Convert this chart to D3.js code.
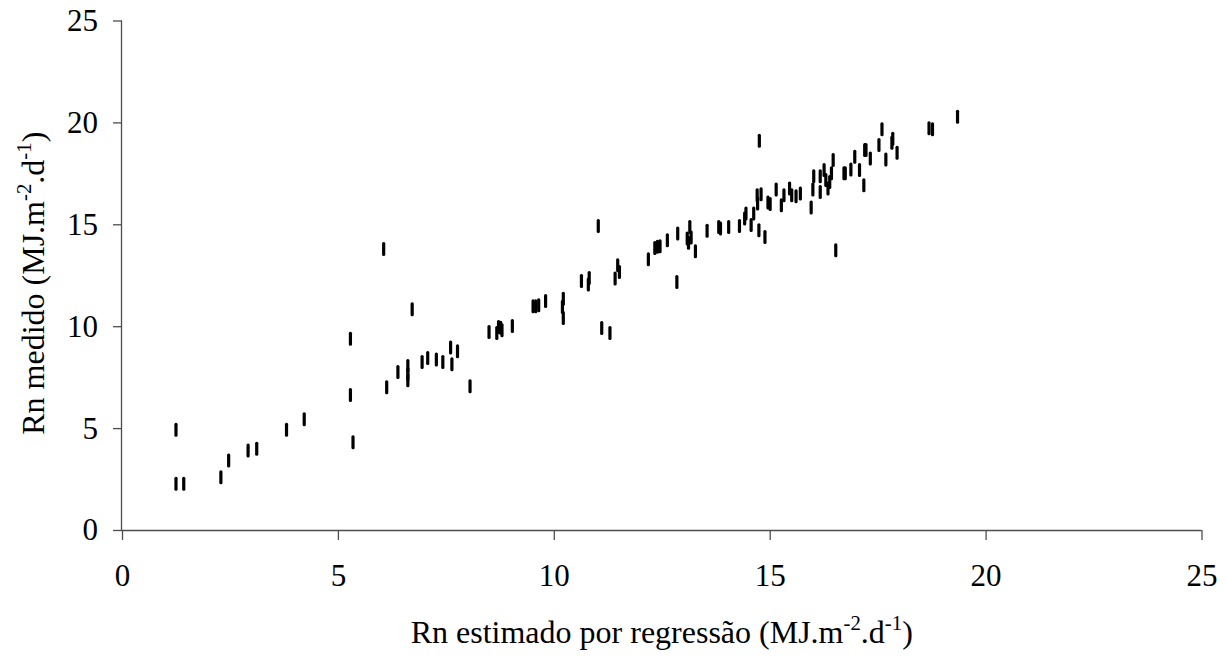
<!DOCTYPE html>
<html>
<head>
<meta charset="utf-8">
<script src="https://cdn.jsdelivr.net/npm/d3@7"></script>
<style>
  html, body { margin: 0; padding: 0; background: #fff; }
  svg, svg text { font-family: "Liberation Serif", "Times New Roman", Tinos, Times, "DejaVu Serif", serif !important; }
</style>
</head>
<body>
<svg id="chart" width="1225" height="657"></svg>
<script>
// Rn estimated by regression (x) and measured Rn (y), MJ.m-2.d-1
const xEstimado = [
  1.25, 1.25, 1.43, 2.29, 2.47, 2.92, 3.12, 3.81, 4.22, 5.29, 5.35, 5.29,
  6.06, 6.72, 6.13, 6.39, 6.62, 6.62, 6.62, 6.95, 7.08, 7.28, 7.43, 7.61,
  7.64, 7.77, 8.06, 8.50, 8.68, 8.72, 8.77, 8.80, 9.04, 9.52, 9.58, 9.65,
  9.81, 10.22, 10.20, 10.22, 10.64, 10.82, 10.80, 11.03, 11.11, 11.30, 11.42, 11.48,
  11.52, 12.19, 12.34, 12.40, 12.46, 12.63, 12.85, 12.87, 13.09, 13.12, 13.15, 13.18,
  13.28, 13.55, 13.82, 13.86, 14.05, 14.30, 14.42, 14.45, 14.57, 14.63, 14.72, 14.71,
  14.80, 14.76, 14.75, 14.89, 14.96, 15.01, 15.15, 15.27, 15.33, 15.46, 15.51, 15.61,
  15.71, 15.96, 16.00, 16.02, 16.17, 16.17, 16.26, 16.30, 16.35, 16.39, 16.43, 16.47,
  16.53, 16.72, 16.75, 16.88, 16.97, 17.08, 17.18, 17.20, 17.23, 17.33, 17.53, 17.60,
  17.69, 17.83, 17.85, 17.95, 18.69, 18.77, 19.35
];
const yMedido = [
  4.92, 2.27, 2.27, 2.59, 3.41, 3.90, 3.99, 4.92, 5.43, 6.62, 4.30, 9.39,
  13.79, 10.83, 7.01, 7.75, 8.05, 7.65, 7.35, 8.24, 8.44, 8.37, 8.24, 8.95,
  8.13, 8.77, 7.05, 9.72, 9.67, 9.96, 9.93, 9.80, 10.01, 10.98, 10.98, 11.03,
  11.24, 11.35, 10.94, 10.40, 12.22, 12.37, 12.04, 14.92, 9.91, 9.67, 12.34, 12.99,
  12.66, 13.29, 13.84, 13.90, 13.92, 14.22, 12.17, 14.55, 14.30, 14.10, 14.87, 14.35,
  13.68, 14.68, 14.87, 14.80, 14.87, 14.92, 15.28, 15.53, 14.96, 15.53, 16.02, 16.43,
  16.48, 19.10, 14.71, 14.38, 16.07, 15.99, 16.71, 15.94, 16.43, 16.76, 16.43, 16.38,
  16.51, 15.83, 16.71, 17.36, 16.59, 17.36, 17.66, 17.17, 16.76, 17.08, 17.50, 18.15,
  13.73, 17.50, 17.50, 17.69, 18.31, 17.66, 16.92, 18.64, 18.64, 18.23, 18.89, 19.66,
  18.18, 19.00, 19.20, 18.51, 19.71, 19.66, 20.28
];
const xTicks = [0, 5, 10, 15, 20, 25];
const yTicks = [0, 5, 10, 15, 20, 25];

const svg = d3.select("#chart");
const margin = { left: 122, top: 20.5, right: 23.5, bottom: 127 };
const W = 1225, H = 657;
const x = d3.scaleLinear().domain([0, 25]).range([margin.left, W - margin.right]);
const y = d3.scaleLinear().domain([0, 25]).range([H - margin.bottom, margin.top]);

const axisColor = "#4d4d4d";
const tickFont = 31;
const titleFont = 32;

// X axis
const gx = svg.append("g")
  .attr("transform", `translate(0,${y(0)})`)
  .call(d3.axisBottom(x).tickValues(xTicks).tickSize(10).tickPadding(24).tickFormat(d3.format("d")));
gx.attr("font-family", null);
gx.select(".domain").attr("stroke", axisColor).attr("stroke-width", 1.3).attr("d", `M${x(0)},0.5H${x(25)}`);
gx.selectAll(".tick line").attr("stroke", axisColor).attr("stroke-width", 1.3);
gx.selectAll(".tick text").attr("fill", "#000").attr("font-size", tickFont);

// Y axis
const gy = svg.append("g")
  .attr("transform", `translate(${x(0)},0)`)
  .call(d3.axisLeft(y).tickValues(yTicks).tickSize(9).tickPadding(15).tickFormat(d3.format("d")));
gy.attr("font-family", null);
gy.select(".domain").attr("stroke", axisColor).attr("stroke-width", 1.3).attr("d", `M-0.5,${y(0)}V${y(25)}`);
gy.selectAll(".tick line").attr("stroke", axisColor).attr("stroke-width", 1.3);
gy.selectAll(".tick text").attr("fill", "#000").attr("font-size", tickFont);

// Points: short vertical dash markers
const pts = xEstimado.map((v, i) => ({ x: v, y: yMedido[i] }));
svg.append("g").selectAll("rect").data(pts).join("rect")
  .attr("x", d => x(d.x) - 1.6)
  .attr("y", d => y(d.y) - 7)
  .attr("width", 3.2)
  .attr("height", 14)
  .attr("rx", 1.5)
  .attr("fill", "#000");

// X axis title
const xt = svg.append("text")
  .attr("x", (x(0) + x(25)) / 2)
  .attr("y", 643)
  .attr("text-anchor", "middle")
  .attr("font-size", titleFont)
  .attr("fill", "#000");
xt.append("tspan").text("Rn estimado por regressão (MJ.m");
xt.append("tspan").attr("font-size", titleFont * 0.65).attr("dy", -13).text("-2");
xt.append("tspan").attr("dy", 13).text(".d");
xt.append("tspan").attr("font-size", titleFont * 0.65).attr("dy", -13).text("-1");
xt.append("tspan").attr("dy", 13).text(")");

// Y axis title
const yt = svg.append("text")
  .attr("transform", `translate(44,${(y(0) + y(25)) / 2 + 8}) rotate(-90)`)
  .attr("text-anchor", "middle")
  .attr("font-size", titleFont)
  .attr("fill", "#000");
yt.append("tspan").text("Rn medido (MJ.m");
yt.append("tspan").attr("font-size", titleFont * 0.65).attr("dy", -13).text("-2");
yt.append("tspan").attr("dy", 13).text(".d");
yt.append("tspan").attr("font-size", titleFont * 0.65).attr("dy", -13).text("-1");
yt.append("tspan").attr("dy", 13).text(")");
</script>
</body>
</html>
